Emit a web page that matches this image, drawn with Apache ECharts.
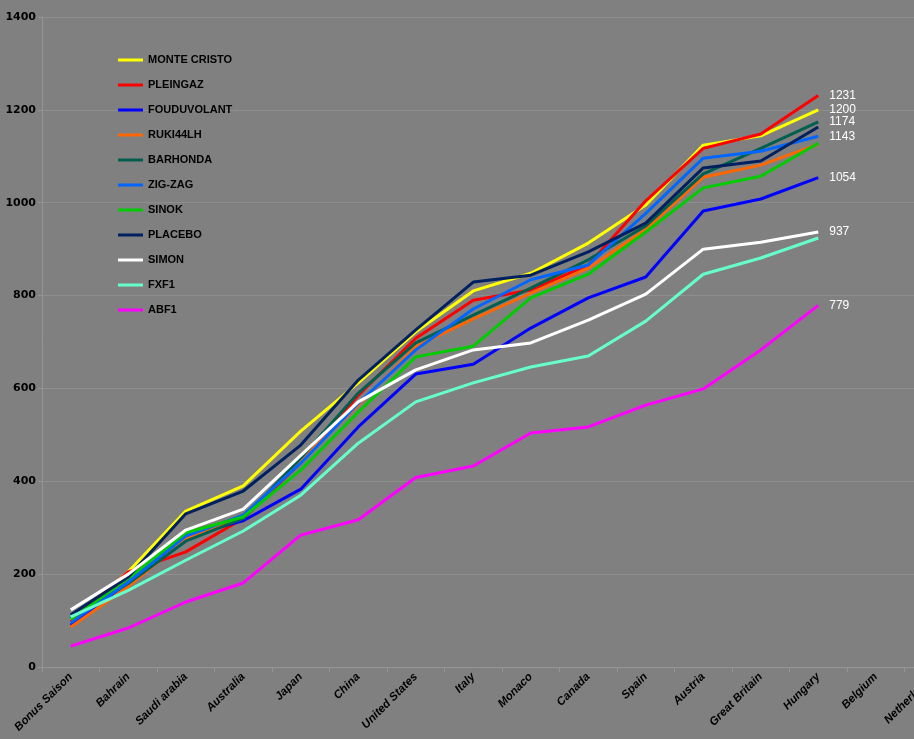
<!DOCTYPE html>
<html>
<head>
<meta charset="utf-8">
<script src="https://cdn.jsdelivr.net/npm/echarts@6/dist/echarts.min.js"></script>
<style>
html,body{margin:0;padding:0;background:#808080;}
#chart{width:914px;height:739px;}
</style>
</head>
<body>
<div id="chart"></div>
<script>
const categories = ['Bonus Saison','Bahrain','Saudi arabia','Australia','Japan','China','United States','Italy','Monaco','Canada','Spain','Austria','Great Britain','Hungary','Belgium','Netherlands'];

const seriesNames = ['MONTE CRISTO','PLEINGAZ','FOUDUVOLANT','RUKI44LH','BARHONDA','ZIG-ZAG','SINOK','PLACEBO','SIMON','FXF1','ABF1'];
const seriesColors = ['#FFFF00','#FF0000','#0000FF','#FF6600','#006050','#0066FF','#00CC00','#002060','#FFFFFF','#66FFCC','#FF00FF'];

const monteCristo = [100,205,336,390,508,612,722,810,848,913,995,1124,1144,1200];
const pleingaz    = [98,205,248,320,440,585,708,790,812,866,1004,1117,1148,1231];
const fouduvolant = [90,183,282,315,383,517,631,652,730,795,840,982,1008,1054];
const ruki44lh    = [86,173,276,321,446,564,690,750,805,859,943,1055,1081,1126];
const barhonda    = [105,180,271,320,450,590,698,758,816,877,950,1062,1117,1174];
const zigzag      = [95,183,282,327,439,568,683,771,834,866,977,1096,1111,1143];
const sinok       = [103,191,289,323,424,549,668,691,795,846,937,1032,1057,1128];
const placebo     = [112,194,330,379,478,618,726,829,844,894,956,1075,1090,1163];
const simon       = [123,200,295,340,456,571,640,683,698,747,803,900,915,937];
const fxf1        = [108,165,230,293,370,482,571,612,646,670,745,846,881,924];
const abf1        = [45,84,140,181,284,317,408,433,504,517,564,599,683,779];

const seriesValues = [monteCristo,pleingaz,fouduvolant,ruki44lh,barhonda,zigzag,sinok,placebo,simon,fxf1,abf1];
const labelledSeries = ['MONTE CRISTO','PLEINGAZ','FOUDUVOLANT','BARHONDA','ZIG-ZAG','SIMON','ABF1'];

const yTicks = {min:0, max:1400, interval:200};

const chart = echarts.init(document.getElementById('chart'), null, {renderer:'canvas'});

const series = seriesNames.map((name, i) => ({
  name: name,
  type: 'line',
  data: seriesValues[i],
  symbol: 'none',
  showSymbol: false,
  lineStyle: {width: 3, color: seriesColors[i]},
  itemStyle: {color: seriesColors[i]},
  endLabel: {
    show: labelledSeries.includes(name),
    distance: 11,
    color: '#FFFFFF',
    fontFamily: 'Liberation Sans',
    fontSize: 12,
    formatter: p => String(p.value)
  },
  emphasis: {disabled: true},
  animation: false
}));

chart.setOption({
  backgroundColor: '#808080',
  animation: false,
  grid: {left: 42, top: 17, width: 920, height: 650, containLabel: false, outerBoundsMode: 'none'},
  legend: {
    orient: 'vertical',
    left: 118, top: 53,
    padding: 0,
    itemWidth: 25, itemHeight: 3, itemGap: 11,
    icon: 'rect',
    data: seriesNames.map((n, i) => ({name: n, itemStyle: {color: seriesColors[i]}})),
    textStyle: {color: '#000000', fontWeight: 'bold', fontFamily: 'Liberation Sans', fontSize: 11, lineHeight: 14, padding: [0,0,0,0]}
  },
  xAxis: {
    type: 'category',
    data: categories,
    boundaryGap: true,
    axisLine: {show: true, lineStyle: {color: '#959595', width: 1}},
    axisTick: {show: true, alignWithLabel: false, lineStyle: {color: '#959595'}},
    axisLabel: {interval: 0, rotate: 45, margin: 8, color: '#000000', fontWeight: 'bold', fontStyle: 'italic',
      fontFamily: 'Liberation Sans', fontSize: 11.5},
    splitLine: {show: false}
  },
  yAxis: {
    type: 'value',
    min: yTicks.min, max: yTicks.max, interval: yTicks.interval,
    axisLine: {show: true, lineStyle: {color: '#959595', width: 1}},
    axisTick: {show: true, length: 4, lineStyle: {color: '#959595'}},
    axisLabel: {color: '#000000', fontWeight: 'bold', fontFamily: 'DejaVu Sans', fontSize: 11, margin: 6,
      formatter: v => String(v)},
    splitLine: {show: true, lineStyle: {color: '#8E8E8E', width: 1}}
  },
  series: series
});
</script>
</body>
</html>
